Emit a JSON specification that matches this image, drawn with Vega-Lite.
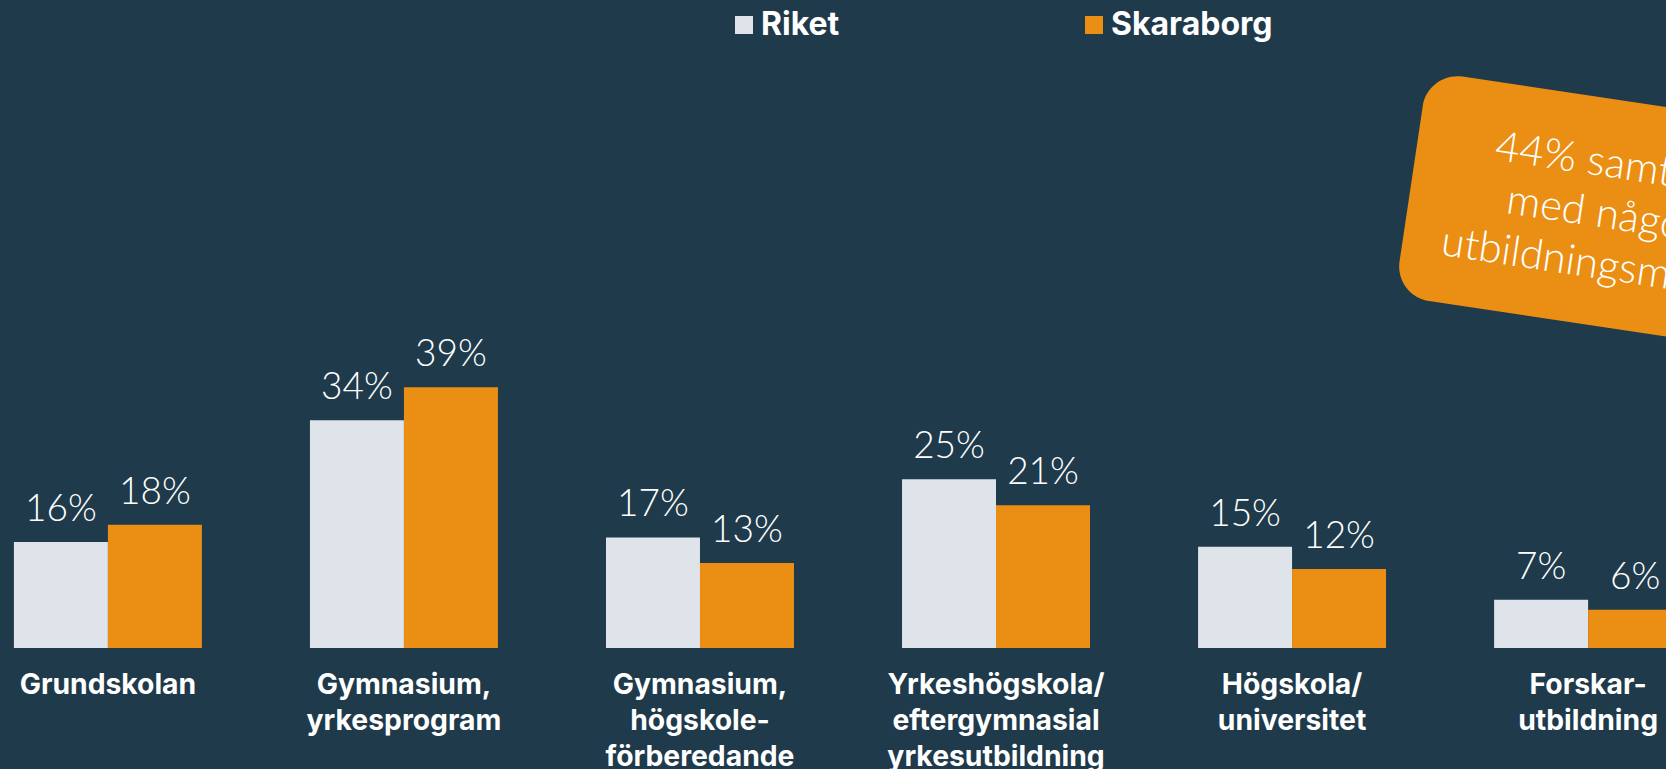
{
  "$schema": "https://vega.github.io/schema/vega-lite/v6.json",
  "width": 1666,
  "height": 648,
  "autosize": {"type": "none"},
  "padding": {"left": 0, "top": 0, "right": 0, "bottom": 121},
  "background": "#1e3a4b",
  "config": {"view": {"stroke": null}},
  "datasets": {
    "bars": [
      {"kategori": "Grundskolan", "serie": "Riket", "andel": 0.158},
      {"kategori": "Grundskolan", "serie": "Skaraborg", "andel": 0.184},
      {"kategori": "Gymnasium,\nyrkesprogram", "serie": "Riket", "andel": 0.340},
      {"kategori": "Gymnasium,\nyrkesprogram", "serie": "Skaraborg", "andel": 0.389},
      {"kategori": "Gymnasium,\nhögskole-\nförberedande", "serie": "Riket", "andel": 0.165},
      {"kategori": "Gymnasium,\nhögskole-\nförberedande", "serie": "Skaraborg", "andel": 0.127},
      {"kategori": "Yrkeshögskola/\neftergymnasial\nyrkesutbildning", "serie": "Riket", "andel": 0.252},
      {"kategori": "Yrkeshögskola/\neftergymnasial\nyrkesutbildning", "serie": "Skaraborg", "andel": 0.213},
      {"kategori": "Högskola/\nuniversitet", "serie": "Riket", "andel": 0.151},
      {"kategori": "Högskola/\nuniversitet", "serie": "Skaraborg", "andel": 0.118},
      {"kategori": "Forskar-\nutbildning", "serie": "Riket", "andel": 0.072},
      {"kategori": "Forskar-\nutbildning", "serie": "Skaraborg", "andel": 0.057}
    ],
    "note": [
      {"kategori": "Forskar-\nutbildning", "text": "44% samtliga\nmed någon\nutbildningsmässig"}
    ]
  },
  "layer": [
    {
      "data": {"name": "bars"},
      "mark": {"type": "bar"},
      "encoding": {
        "x": {
          "field": "kategori", "type": "nominal", "sort": null,
          "scale": {"range": [0, 1696], "paddingInner": 0.365, "paddingOuter": 0.047},
          "axis": {
            "title": null, "domain": false, "ticks": false, "labelAngle": 0,
            "labelPadding": 23, "labelFont": "Inter", "labelFontWeight": "bold",
            "labelFontSize": 28.3, "labelColor": "#ffffff", "labelLineHeight": 36,
            "labelExpr": "split(datum.label, '\\n')", "labelLimit": 0
          }
        },
        "xOffset": {"field": "serie", "type": "nominal", "scale": {"paddingInner": 0, "paddingOuter": 0}},
        "y": {"field": "andel", "type": "quantitative", "scale": {"domain": [0, 0.967], "nice": false}, "axis": null},
        "color": {
          "field": "serie", "type": "nominal",
          "scale": {"domain": ["Riket", "Skaraborg"], "range": ["#dfe3ea", "#ea8f14"]},
          "legend": {
            "orient": "none", "legendX": 728, "legendY": 9, "direction": "horizontal",
            "title": null, "symbolType": "square", "symbolSize": 324, "symbolStrokeWidth": 0,
            "labelFont": "Inter", "labelFontWeight": "bold", "labelFontSize": 32,
            "labelColor": "#ffffff", "labelOffset": 1, "columnPadding": 238, "labelLimit": 0
          }
        }
      }
    },
    {
      "data": {"name": "bars"},
      "mark": {"type": "text", "font": "Lato", "fontWeight": 300, "fontSize": 37, "color": "#ffffff", "baseline": "alphabetic", "align": "center", "dy": -21},
      "encoding": {
        "x": {"field": "kategori", "type": "nominal", "sort": null},
        "xOffset": {"field": "serie", "type": "nominal"},
        "y": {"field": "andel", "type": "quantitative"},
        "text": {"field": "andel", "type": "quantitative", "format": ".0%"}
      }
    },
    {
      "data": {"name": "note"},
      "mark": {
        "type": "point", "filled": true, "opacity": 1, "color": "#ea8f14", "strokeWidth": 0,
        "shape": "M-0.814,-0.6037 H0.814 A0.186,0.186 0 0 1 1,-0.4177 V0.4177 A0.186,0.186 0 0 1 0.814,0.6037 H-0.814 A0.186,0.186 0 0 1 -1,0.4177 V-0.4177 A0.186,0.186 0 0 1 -0.814,-0.6037 Z",
        "size": 141376, "angle": 8.5, "xOffset": 9
      },
      "encoding": {
        "x": {"field": "kategori", "type": "nominal", "sort": null},
        "y": {"datum": 0.6515, "type": "quantitative"}
      }
    },
    {
      "data": {"name": "note"},
      "mark": {"type": "text", "font": "Lato", "fontWeight": 300, "fontSize": 42, "color": "#ffffff", "align": "center", "baseline": "alphabetic", "lineBreak": "\n", "lineHeight": 51, "angle": 8.5, "xOffset": 24},
      "encoding": {
        "x": {"field": "kategori", "type": "nominal", "sort": null},
        "y": {"datum": 0.7022, "type": "quantitative"},
        "text": {"field": "text", "type": "nominal"}
      }
    }
  ]
}
